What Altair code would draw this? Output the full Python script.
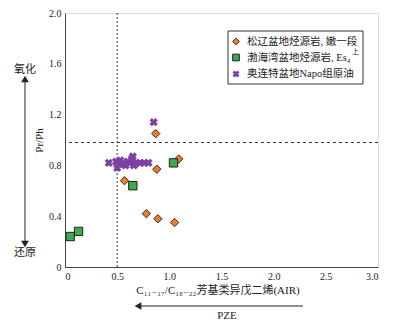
import altair as alt
import pandas as pd

FONT = "Liberation Serif, DejaVu Serif, Noto Sans CJK SC"

# Songliao basin source rock (orange diamonds)
sl_x = [0.87, 1.09, 0.88, 0.57, 0.78, 0.89, 1.05]
sl_y = [1.05, 0.85, 0.77, 0.68, 0.42, 0.38, 0.35]
# Bohai Bay basin source rock (green squares)
bh_x = [1.04, 0.65, 0.05, 0.13]
bh_y = [0.82, 0.64, 0.24, 0.28]
# Oriente basin Napo oils (purple crosses)
ot_x = [0.42, 0.49, 0.50, 0.52, 0.53, 0.56, 0.58, 0.60, 0.62, 0.64, 0.65, 0.66, 0.68, 0.72, 0.76, 0.80, 0.85]
ot_y = [0.82, 0.83, 0.78, 0.81, 0.84, 0.82, 0.80, 0.83, 0.82, 0.85, 0.87, 0.80, 0.82, 0.82, 0.82, 0.82, 1.14]

x_ticks = [0, 0.5, 1.0, 1.5, 2.0, 2.5, 3.0]
y_ticks = [0, 0.4, 0.8, 1.2, 1.6, 2.0]
v_ref = 0.5
h_ref = 0.98

legend_labels = ["松辽盆地烃源岩, 嫩一段", "渤海湾盆地烃源岩, Es₄", "奥连特盆地Napo组原油"]

sl = pd.DataFrame({"x": sl_x, "y": sl_y})
bh = pd.DataFrame({"x": bh_x, "y": bh_y})
ot = pd.DataFrame({"x": ot_x, "y": ot_y})

W, H = 313, 254

xs = alt.Scale(domain=[0, 3], nice=False)
ys = alt.Scale(domain=[0, 2], nice=False)

xaxis = alt.Axis(values=x_ticks, title=None, grid=False, ticks=False,
                 labelExpr="datum.value == 0 ? '0' : format(datum.value, '.1f')",
                 labelFont=FONT, labelFontSize=10, labelColor="#222",
                 domainColor="#444", labelPadding=4)
yaxis = alt.Axis(values=y_ticks, title="Pr/Ph", grid=False, ticks=False,
                 labelExpr="datum.value == 0 ? '0' : format(datum.value, '.1f')",
                 labelFont=FONT, labelFontSize=10, labelColor="#222",
                 domainColor="#444", labelPadding=4,
                 titleFont=FONT, titleFontSize=11, titleFontWeight="normal",
                 titleColor="#222", titlePadding=4)

base_x = alt.X("x:Q", scale=xs, axis=xaxis)
base_y = alt.Y("y:Q", scale=ys, axis=yaxis)

vline = alt.Chart(pd.DataFrame({"v": [v_ref]})).mark_rule(
    color="#333", strokeDash=[2, 2], strokeWidth=1).encode(x=alt.X("v:Q", scale=xs))
hline = alt.Chart(pd.DataFrame({"h": [h_ref]})).mark_rule(
    color="#333", strokeDash=[3, 3], strokeWidth=1).encode(y=alt.Y("h:Q", scale=ys))

p_sl = alt.Chart(sl).mark_point(shape="diamond", filled=True, size=70, fill="#EE7D2B",
                                stroke="#3a2a1a", strokeWidth=1, opacity=1).encode(x=base_x, y=base_y)
p_bh = alt.Chart(bh).mark_point(shape="square", filled=True, size=70, fill="#3DAA4B",
                                stroke="#222", strokeWidth=1, opacity=1).encode(x=base_x, y=base_y)
p_ot = alt.Chart(ot).mark_point(shape="cross", filled=True, size=70, angle=45,
                                color="#7D3FA3", opacity=1).encode(x=base_x, y=base_y)

def txt(s, x, y, size=11, align="center", baseline="middle"):
    return alt.Chart(pd.DataFrame({"t": [s]})).mark_text(
        font=FONT, fontSize=size, color="#222", align=align, baseline=baseline
    ).encode(text="t:N", x=alt.value(x), y=alt.value(y))

one = pd.DataFrame({"a": [0]})

# vertical arrow
varrow = alt.Chart(one).mark_rule(color="#222", strokeWidth=1).encode(
    x=alt.value(-40), y=alt.value(68), y2=alt.value(228))
vup = alt.Chart(one).mark_point(shape="triangle-up", filled=True, size=60, color="#222", opacity=1).encode(
    x=alt.value(-40), y=alt.value(66))
vdown = alt.Chart(one).mark_point(shape="triangle-down", filled=True, size=60, color="#222", opacity=1).encode(
    x=alt.value(-40), y=alt.value(231))
# horizontal arrow
harrow = alt.Chart(one).mark_rule(color="#222", strokeWidth=1).encode(
    x=alt.value(74), x2=alt.value(238), y=alt.value(293))
hleft = alt.Chart(one).mark_point(shape="triangle-left", filled=True, size=60, color="#222", opacity=1).encode(
    x=alt.value(73), y=alt.value(293))

# legend
leg_box = alt.Chart(one).mark_rect(fill="white", stroke="#333", strokeWidth=1).encode(
    x=alt.value(163), x2=alt.value(298), y=alt.value(18), y2=alt.value(71))
lg1 = alt.Chart(one).mark_point(shape="diamond", filled=True, size=45, fill="#EE7D2B",
                                stroke="#3a2a1a", strokeWidth=1, opacity=1).encode(
    x=alt.value(171), y=alt.value(28.5))
lg2 = alt.Chart(one).mark_point(shape="square", filled=True, size=45, fill="#3DAA4B",
                                stroke="#222", strokeWidth=1, opacity=1).encode(
    x=alt.value(171), y=alt.value(44.5))
lg3 = alt.Chart(one).mark_point(shape="cross", filled=True, size=50, angle=45,
                                color="#7D3FA3", opacity=1).encode(
    x=alt.value(171), y=alt.value(61))

layers = [vline, hline, p_sl, p_bh, p_ot,
          varrow, vup, vdown, harrow, hleft,
          leg_box, lg1, lg2, lg3,
          txt(legend_labels[0], 182, 28.5, 10.5, "left"),
          txt(legend_labels[1], 182, 44.5, 10.5, "left"),
          txt("上", 287, 39, 7, "left"),
          txt(legend_labels[2], 182, 61, 10.5, "left"),
          txt("氧化", -40, 57, 11),
          txt("还原", -40, 240, 11),
          txt("C₁₁₋₁₇/C₁₈₋₂₂芳基类异戊二烯(AIR)", 153, 278, 11),
          txt("PZE", 162, 303, 11)]

chart = alt.layer(*layers).properties(
    width=W, height=H,
    autosize=alt.AutoSizeParams(type="none"),
    padding={"left": 65, "top": 13, "right": 24, "bottom": 66},
).configure_view(stroke="#444", strokeWidth=1.2).configure(background="white")

chart.save("out.html", embed_options={"renderer": "svg", "actions": False})
